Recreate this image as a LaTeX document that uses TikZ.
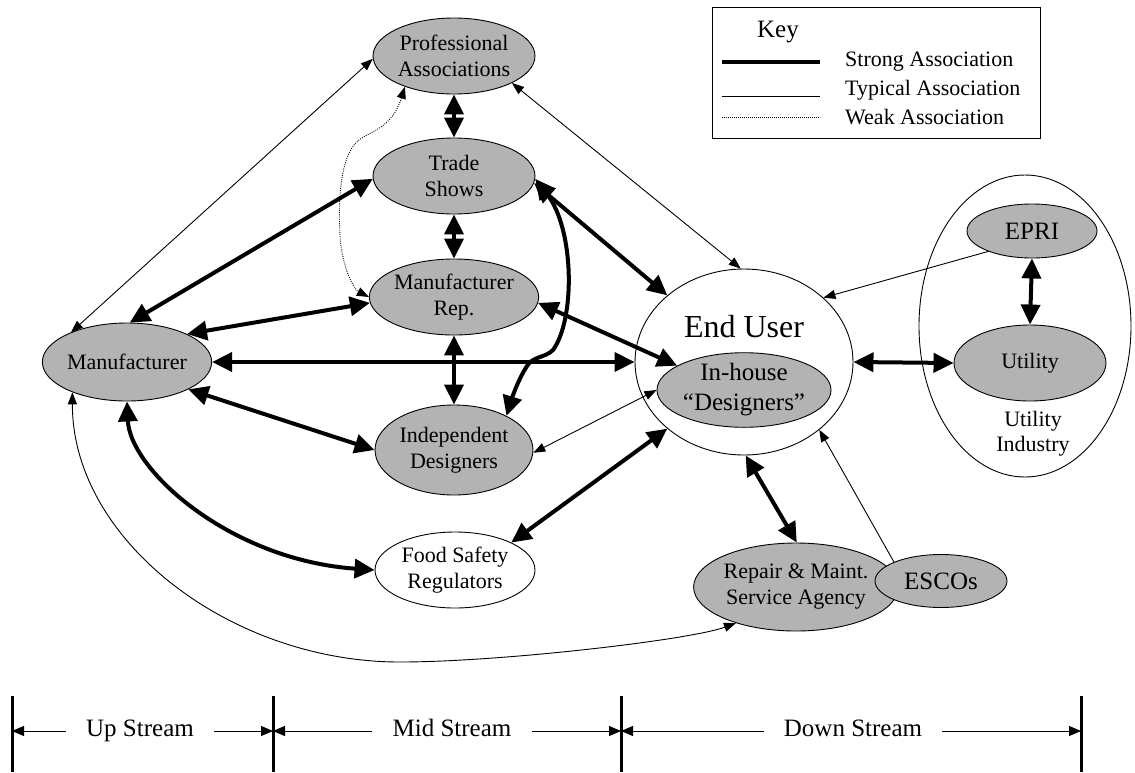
\documentclass[tikz,border=0pt]{standalone}
\usepackage{fontspec}
\setmainfont{Liberation Serif}
\usetikzlibrary{shapes.geometric,arrows.meta}
\definecolor{ng}{RGB}{179,179,179}
\begin{document}
\begin{tikzpicture}[x=1pt,y=-1pt,
  ell/.style={ellipse,draw,line width=0.9pt,fill=ng,inner sep=0pt,align=center,font=\fontsize{22}{26}\selectfont},
  wellipse/.style={ell,fill=white},
  bigtxt/.style={font=\fontsize{25}{30}\selectfont},
  strongarr/.style={line width=4pt,{Triangle[length=20pt,width=19pt]}-{Triangle[length=20pt,width=19pt]}},
  typarr/.style={line width=0.9pt,{Triangle[length=12pt,width=9pt]}-{Triangle[length=12pt,width=9pt]}},
  typone/.style={line width=0.9pt,-{Triangle[length=12pt,width=9pt]}},
  weakarr/.style={line width=0.9pt,dash pattern=on 0.9pt off 1.3pt,{Triangle[length=12pt,width=9pt]}-{Triangle[length=12pt,width=9pt]}},
  streamlbl/.style={font=\fontsize{25}{30}\selectfont,inner xsep=20pt,inner ysep=0pt,text height=17pt,text depth=6pt},
  streamarr/.style={line width=1pt,-{Triangle[length=12pt,width=10pt]}},
  keytxt/.style={anchor=west,inner sep=0pt,font=\fontsize{22}{26}\selectfont}
]
\useasboundingbox (0,0) rectangle (1135,772);

% ---- key ----
\node[draw,line width=1pt,minimum width=328pt,minimum height=131pt,anchor=north west,inner sep=0pt] (key) at (712,7) {};
\node[bigtxt] (keyt) at (778,32) {Key};
\coordinate (ks1) at (722,62); \coordinate (ke1) at (820,62);
\coordinate (ks2) at (722,96); \coordinate (ke2) at (820,96);
\coordinate (ks3) at (722,117); \coordinate (ke3) at (820,117);
\draw[line width=4pt] (ks1) -- (ke1);
\draw[line width=1pt] (ks2) -- (ke2);
\draw[line width=0.8pt,dash pattern=on 0.8pt off 1.2pt] (ks3) -- (ke3);
\node[keytxt] (kt1) at (845,62) {Strong Association};
\node[keytxt] (kt2) at (845,90) {Typical Association};
\node[keytxt] (kt3) at (845,117) {Weak Association};

% ---- nodes ----
\node[ell,minimum width=162pt,minimum height=76pt] (prof) at (454,56) {Professional\\Associations};
\node[ell,minimum width=162pt,minimum height=76pt] (trade) at (454,176) {Trade\\Shows};
\node[ell,minimum width=162pt,minimum height=76pt] (rep) at (454,297) {Manufacturer\\Rep.};
\node[ell,minimum width=158pt,minimum height=90pt] (indep) at (454,450) {Independent\\Designers};
\node[wellipse,minimum width=160pt,minimum height=76pt] (food) at (455,570) {Food Safety\\Regulators};
\node[ell,minimum width=164pt,minimum height=78pt] (mfr) at (127,362) {Manufacturer};

\node[ellipse,draw,line width=0.9pt,fill=white,minimum width=212pt,minimum height=302pt,inner sep=0pt] (industry) at (1025,326) {};
\node[ell,minimum width=130pt,minimum height=54pt,font=\fontsize{25}{30}\selectfont] (epri) at (1032,231) {EPRI};
\node[ell,minimum width=152pt,minimum height=76pt] (util) at (1030,363) {Utility};
\node[align=center,font=\fontsize{22}{25}\selectfont] (indlbl) at (1033,434) {Utility\\Industry};

\node[ellipse,draw,line width=0.9pt,fill=white,minimum width=218pt,minimum height=186pt,inner sep=0pt] (eu) at (744,362) {};
\node[font=\fontsize{32}{36}\selectfont] (eutxt) at (744,327) {End User};
\node[ell,minimum width=174pt,minimum height=64pt,font=\fontsize{25}{30}\selectfont] (inhouse) at (744,390) {In-house\\“Designers”};

\node[ell,minimum width=188pt,minimum height=88pt] (repair) at (796,587) {Repair \& Maint.\\Service Agency};
\node[ell,minimum width=132pt,minimum height=53pt,font=\fontsize{25}{30}\selectfont] (escos) at (941,581) {ESCOs};

% ---- connectors ----
\draw[strongarr] (prof.south) -- (trade.north);
\draw[strongarr] (trade.south) -- (rep.north);
\draw[strongarr] (rep.south) -- (indep.north);
\draw[typarr] (mfr.152) -- (prof.182);
\draw[strongarr] (mfr.86) -- (trade.182);
\draw[strongarr] (mfr.25) -- (rep.184);
\draw[strongarr] (mfr.0) -- (eu.180);
\draw[strongarr] (mfr.-24) -- (indep.180);
\draw[strongarr] (mfr.-90) .. controls (130,470) and (230,560) .. (food.180);
\draw[typarr] (mfr.209) .. controls (72,540) and (230,662) .. (400,662) .. controls (500,662) and (690,640) .. (repair.211);
\draw[weakarr] (prof.212) .. controls (393,125) and (375,130) .. (362,138) .. controls (340,150) and (338,200) .. (340,235) .. controls (342,270) and (355,290) .. (rep.180);
\draw[typarr] (prof.-25) -- (eu.92);
\draw[strongarr] (trade.-5) -- (eu.139);
\draw[strongarr] (trade.-2) .. controls (575,230) and (575,320) .. (553,350) .. controls (545,358) and (533,356) .. (527,366) .. controls (518,380) and (512,398) .. (indep.33);
\draw[strongarr] (rep.-4) -- (inhouse.160);
\draw[typarr] (inhouse.180) -- (indep.-2);
\draw[strongarr] (food.26) -- (eu.221);
\draw[typone] (epri.205) -- (eu.39);
\draw[strongarr] (epri.south) -- (util.north);
\draw[strongarr] (eu.0) -- (util.180);
\draw[strongarr] (eu.-89) -- (repair.89);
\draw[typone] (escos.158) -- (eu.-42);

% ---- stream bar ----
\coordinate (b1t) at (12,696); \coordinate (b1b) at (12,772);
\coordinate (b2t) at (273,696); \coordinate (b2b) at (273,772);
\coordinate (b3t) at (621,696); \coordinate (b3b) at (621,772);
\coordinate (b4t) at (1081,696); \coordinate (b4b) at (1081,772);
\draw[line width=3pt] (b1t) -- (b1b);
\draw[line width=3pt] (b2t) -- (b2b);
\draw[line width=3pt] (b3t) -- (b3b);
\draw[line width=3pt] (b4t) -- (b4b);
\coordinate (b1) at (12,731); \coordinate (b2) at (273,731);
\coordinate (b3) at (621,731); \coordinate (b4) at (1081,731);
\node[streamlbl] (up) at (140,731) {Up Stream};
\node[streamlbl] (mid) at (452,731) {Mid Stream};
\node[streamlbl] (down) at (853,731) {Down Stream};
\draw[streamarr] (up.west) -- (b1);
\draw[streamarr] (up.east) -- (b2);
\draw[streamarr] (mid.west) -- (b2);
\draw[streamarr] (mid.east) -- (b3);
\draw[streamarr] (down.west) -- (b3);
\draw[streamarr] (down.east) -- (b4);
\end{tikzpicture}
\end{document}
